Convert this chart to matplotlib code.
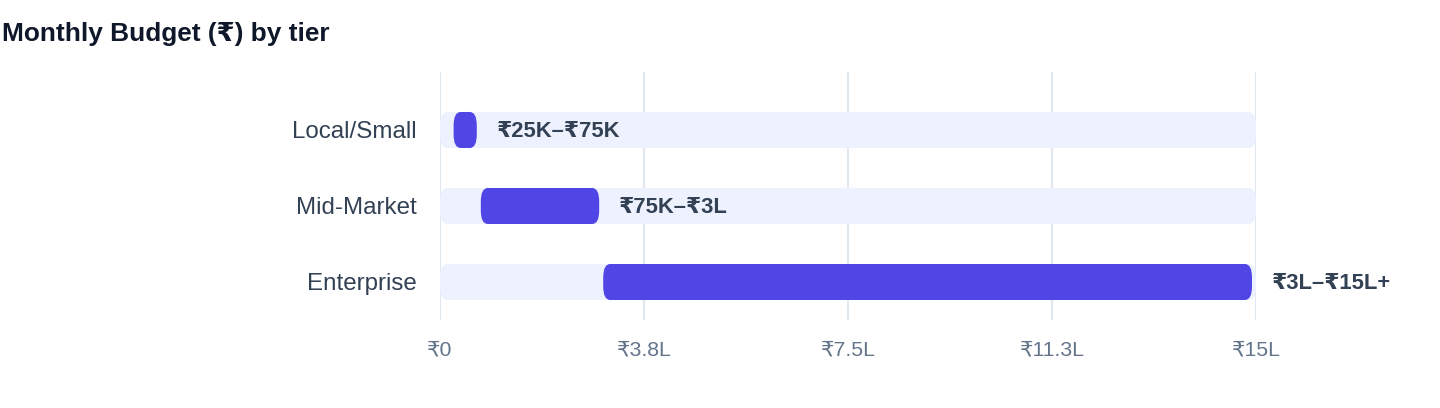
import matplotlib
matplotlib.use('Agg')
import matplotlib.pyplot as plt
from matplotlib.patches import FancyBboxPatch

plt.rcParams['font.family'] = ['Liberation Sans', 'DejaVu Sans']

# budget ranges in lakh rupees
tiers = ['Local/Small', 'Mid-Market', 'Enterprise']
low = [0.25, 0.75, 3.0]
high = [0.75, 3.0, 15.0]
range_labels = ['₹25K–₹75K', '₹75K–₹3L', '₹3L–₹15L+']
scale_max = 15.0
tick_values = [0, 3.75, 7.5, 11.25, 15]
tick_labels = ['₹0', '₹3.8L', '₹7.5L', '₹11.3L', '₹15L']

bar_color = '#4f46e5'
track_color = '#eef2ff'
grid_color = '#e2e8f0'

fig = plt.figure(figsize=(14.4, 4.08), dpi=100)
ax = fig.add_axes([440 / 1440, 88 / 408, 816 / 1440, 248 / 408])
ax.set_xlim(0, scale_max)
ax.set_ylim(2.5, -0.763)

# px per data unit, for round corners
px_x = 816 / scale_max
px_y = 76.0
aspect = px_x / px_y
radius = 7 / px_x
bar_h = 36 / 76
gap = 4 / px_x  # small gap at the right end of the filled bar

for i, tier in enumerate(tiers):
    track = FancyBboxPatch((0, i - bar_h / 2), scale_max, bar_h,
                           boxstyle='round,pad=0,rounding_size=%f' % radius,
                           mutation_aspect=1 / aspect,
                           facecolor=track_color, edgecolor='none', zorder=2)
    ax.add_patch(track)
    bar = FancyBboxPatch((low[i], i - bar_h / 2), high[i] - low[i] - gap, bar_h,
                         boxstyle='round,pad=0,rounding_size=%f' % radius,
                         mutation_aspect=1 / aspect,
                         facecolor=bar_color, edgecolor='none', zorder=3)
    ax.add_patch(bar)
    ax.annotate(range_labels[i], xy=(high[i] - gap, i), xytext=(20, -2),
                textcoords='offset pixels', va='center', ha='left',
                fontsize=15.8, fontweight='bold', color='#334155', zorder=4)

ax.set_yticks(range(len(tiers)))
ax.set_yticklabels(tiers, fontsize=17.4, color='#334155')
ax.set_xticks(tick_values)
ax.set_xticklabels(tick_labels, fontsize=15.3, color='#64748b')
ax.tick_params(axis='both', length=0)
ax.tick_params(axis='y', pad=17)
ax.tick_params(axis='x', pad=15)
ax.grid(axis='x', color=grid_color, linewidth=1.5, zorder=0)
ax.set_axisbelow(True)
for s in ax.spines.values():
    s.set_visible(False)

fig.text(2 / 1440, 1 - 41 / 408, 'Monthly Budget (₹) by tier', fontsize=18.9,
         fontweight='bold', color='#0f172a', ha='left', va='baseline')

fig.savefig('out.png', dpi=100)
